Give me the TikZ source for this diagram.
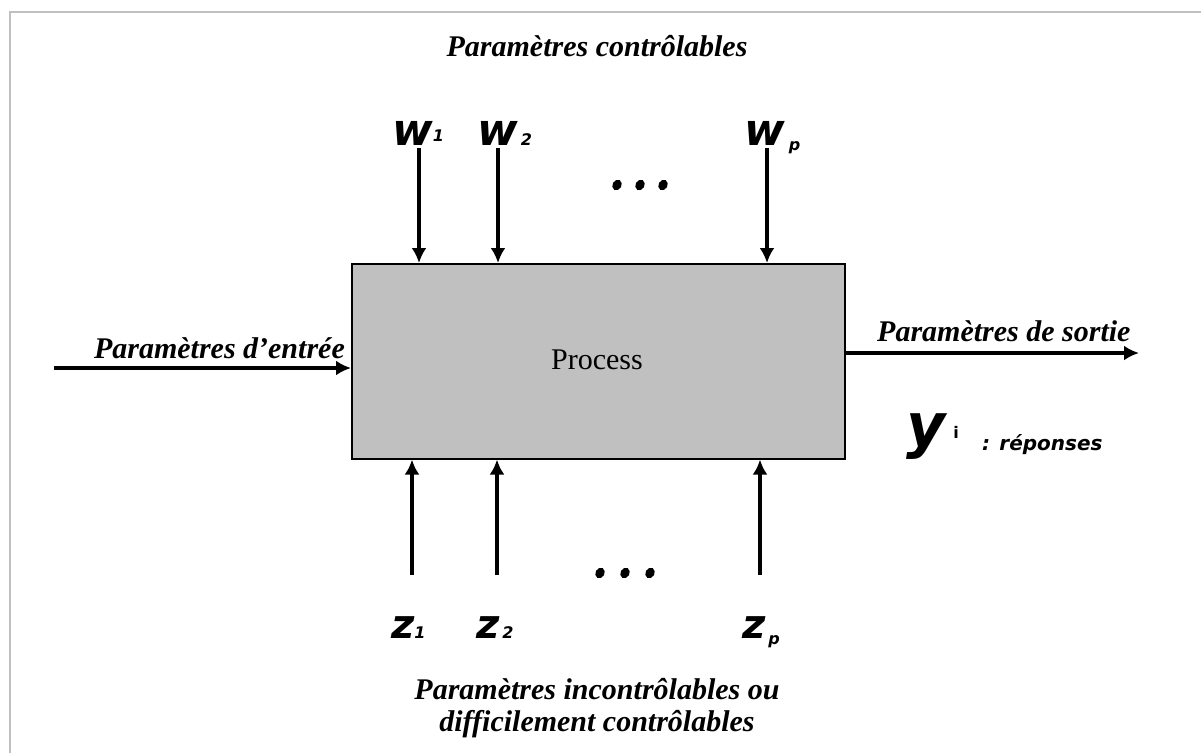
\documentclass[tikz,border=0pt]{standalone}
\usepackage{fontspec}
\setmainfont{Liberation Serif}
\newfontfamily\handfont{DejaVu Sans}
\usetikzlibrary{arrows.meta}
\definecolor{boxgray}{RGB}{192,192,192}
\definecolor{framegray}{RGB}{192,192,192}
\begin{document}
\begin{tikzpicture}[x=1pt,y=-1pt,
  lbl/.style={font=\fontsize{30}{32}\selectfont\bfseries\itshape, inner sep=0pt},
  arr/.style={line width=3.5pt, -{Latex[length=15pt,width=15pt]}},
  var/.style={font=\handfont\bfseries\itshape\fontsize{44}{44}\selectfont, inner sep=0pt, anchor=base west},
  dotmark/.style={fill=black}
]
\newcommand\subx[1]{{\fontsize{16}{16}\selectfont #1}}
\useasboundingbox (0,0) rectangle (1201,753);
\draw[framegray, line width=2pt] (10,753) -- (10,12) -- (1201,12);

% process box
\node[draw, fill=boxgray, line width=1.6pt, minimum width=493pt, minimum height=195pt, anchor=north west, inner sep=0pt] (box) at (351,263) {};
\node[font=\fontsize{30}{32}\selectfont, inner sep=0pt] (proc) at (597,360) {Process};

% titles
\node[lbl, anchor=base] (ttop) at (597,56) {Paramètres contrôlables};
\node[lbl, anchor=base, align=center] (tbot) at (597,731) {Paramètres incontrôlables ou\\difficilement contrôlables};
\node[lbl, anchor=base east] (tin) at (345,358) {Paramètres d’entrée};
\node[lbl, anchor=base west] (tout) at (877,341) {Paramètres de sortie};

% controllable inputs
\node[var] (w1) at (392,145) {w\hspace{0pt}\raisebox{4pt}{\subx{1}}};
\node[var] (w2) at (477,145) {w\hspace{3pt}\subx{2}};
\node[var] (wp) at (744,145) {w\hspace{4pt}\raisebox{-5pt}{\subx{p}}};
\foreach \x in {617,640,663} \fill[dotmark, rotate around={60:(\x,185)}] (\x,185) ellipse [x radius=5.5pt, y radius=4.5pt];
\coordinate (a1) at (419,148);
\coordinate (a2) at (498,148);
\coordinate (ap) at (767,148);
\draw[arr] (a1) -- (a1 |- box.north);
\draw[arr] (a2) -- (a2 |- box.north);
\draw[arr] (ap) -- (ap |- box.north);

% uncontrollable inputs
\coordinate (b1) at (412,575);
\coordinate (b2) at (497,575);
\coordinate (bp) at (760,575);
\draw[arr] (b1) -- (b1 |- box.south);
\draw[arr] (b2) -- (b2 |- box.south);
\draw[arr] (bp) -- (bp |- box.south);
\foreach \x in {600,625,650} \fill[dotmark, rotate around={60:(\x,573)}] (\x,573) ellipse [x radius=5.5pt, y radius=4.5pt];
\node[var, font=\handfont\bfseries\itshape\fontsize{40}{40}\selectfont] (z1) at (391,638) {z\subx{1}};
\node[var, font=\handfont\bfseries\itshape\fontsize{40}{40}\selectfont] (z2) at (476,638) {z\hspace{3pt}\subx{2}};
\node[var, font=\handfont\bfseries\itshape\fontsize{40}{40}\selectfont] (zp) at (742,638) {z\hspace{3pt}\raisebox{-6pt}{\subx{p}}};

% input / output
\coordinate (inS) at (54,368);
\draw[arr] (inS) -- (inS -| box.west);
\coordinate (outE) at (1139,353);
\draw[arr] (outE -| box.east) -- (outE);

% responses
\node[var, font=\handfont\bfseries\itshape\fontsize{60}{60}\selectfont] (yi) at (906,446) {y\hspace{8pt}\raisebox{8pt}{\fontsize{16}{16}\selectfont\upshape i}};
\node[var, font=\handfont\bfseries\itshape\fontsize{20}{20}\selectfont] (rep) at (982,450) {: réponses};
\end{tikzpicture}
\end{document}
